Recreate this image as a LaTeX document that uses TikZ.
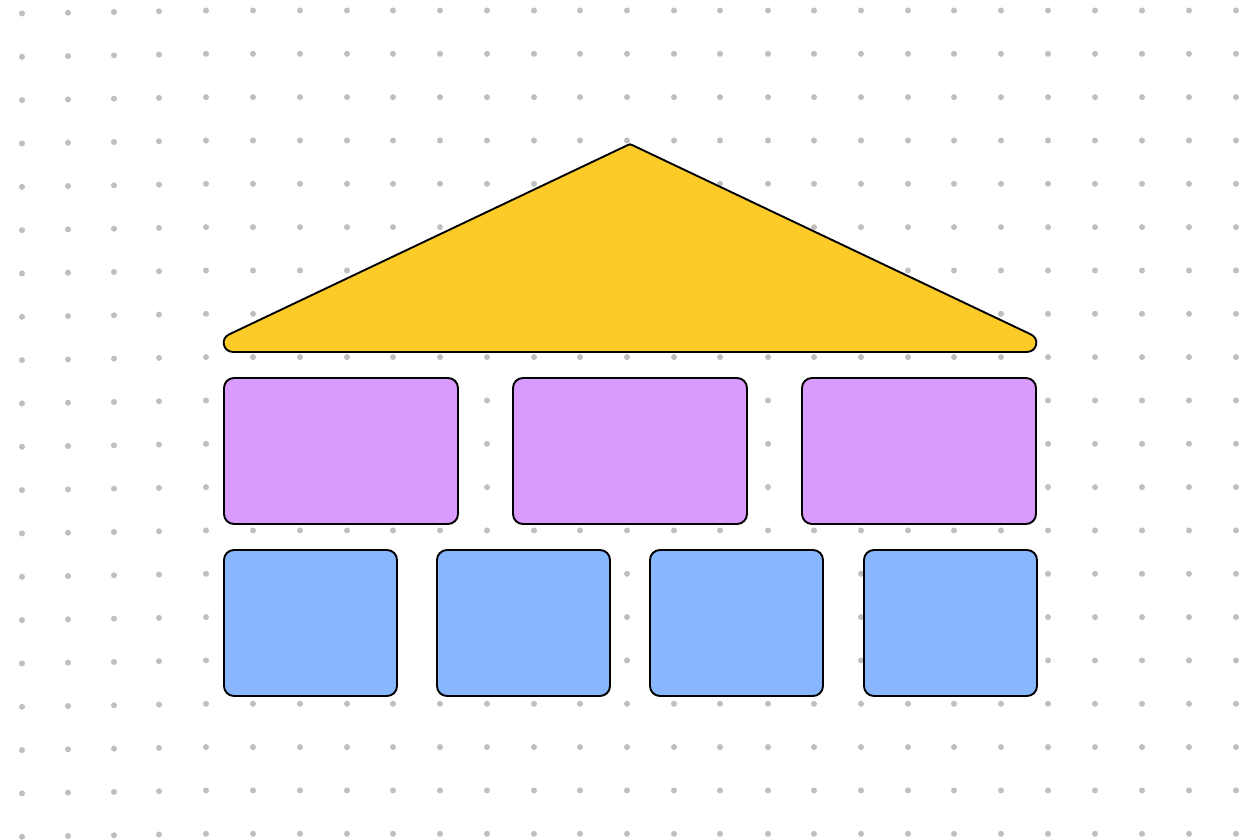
\documentclass[tikz,border=0pt]{standalone}
\usetikzlibrary{positioning}
\definecolor{roofyellow}{HTML}{FDCB28}
\definecolor{pillarpurple}{HTML}{D99BFE}
\definecolor{baseblue}{HTML}{88B7FF}
\definecolor{dotgray}{HTML}{BFBFBF}
\begin{document}
\begin{tikzpicture}[x=0.5pt, y=-0.5pt,
        block/.style={draw, rounded corners=5pt, line width=0.95pt, outer sep=0pt, inner sep=0pt, minimum height=73pt},
        pillar/.style={block, fill=pillarpurple, minimum width=117pt},
        brick/.style={block, fill=baseblue, minimum width=86.5pt},
        roof/.style={draw, fill=roofyellow, line width=0.95pt, line join=round}]
        % Frame
        \useasboundingbox (0,0) rectangle (1260,840);
        \fill[white] (0,0) rectangle (1260,840);
        % Dot grid
        \foreach \x [evaluate=\x as \off using {max(0,3*(206-\x)/184)}] in {22,68,114,159,206,253,300,347,393,440,487,534,580,627,674,720,768,814,861,908,954,1001,1048,1095,1142,1189,1236} {
            \foreach \k in {0,...,19} {
                \fill[dotgray] (\x,10.5+43.33*\k+\off) circle (1.5pt);
            }
        }
        % Roof
        \draw[roof] (233.3,352) .. controls (222.9,352) and (219.9,338.5) .. (229.3,334.3)
            -- (627.3,145.3) .. controls (630,144) .. (632.7,145.3)
            -- (1030.7,334.3) .. controls (1040.1,338.5) and (1037.1,352) .. (1026.7,352) -- cycle;
        % Pillars
        \node (pillarA) [pillar] at (341,451) {};
        \node (pillarB) [pillar, right=27.5pt of pillarA] {};
        \node (pillarC) [pillar, right=27.5pt of pillarB] {};
        % Base
        \node (brickA) [brick] at (310.5,623) {};
        \node (brickB) [brick, right=20pt of brickA] {};
        \node (brickC) [brick, right=20pt of brickB] {};
        \node (brickD) [brick, right=20.5pt of brickC] {};
\end{tikzpicture}
\end{document}
